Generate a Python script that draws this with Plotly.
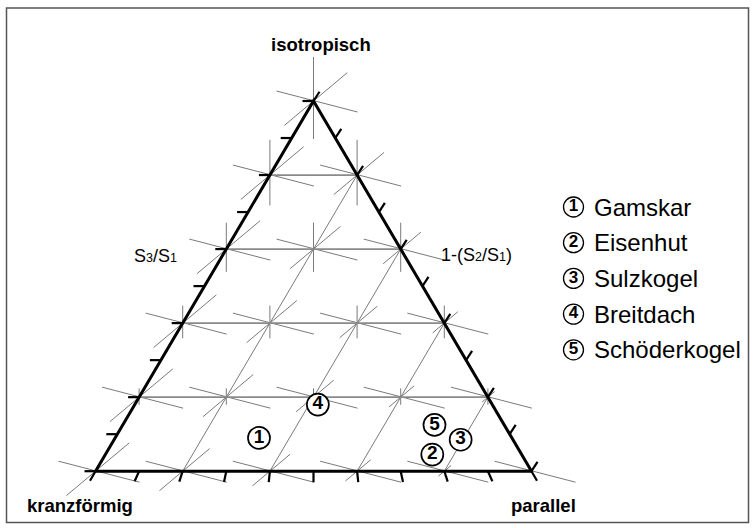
import numpy as np
import plotly.graph_objects as go

# ---------------- data ----------------
site_names = ["Gamskar", "Eisenhut", "Sulzkogel", "Breitdach", "Schöderkogel"]
site_numbers = ["1", "2", "3", "4", "5"]
# ternary components: isotropisch (top), kranzförmig (bottom-left), parallel (bottom-right)
isotropisch = [0.09, 0.045, 0.085, 0.18, 0.125]
kranzfoermig = [0.58, 0.205, 0.12, 0.40, 0.16]
parallel = [0.33, 0.75, 0.795, 0.42, 0.715]

grid_levels = [0.2, 0.4, 0.6, 0.8]
node_levels = [0.0, 0.2, 0.4, 0.6, 0.8, 1.0]
tick_levels = [0.0, 0.1, 0.2, 0.3, 0.4, 0.5, 0.6, 0.7, 0.8, 0.9, 1.0]

corner_labels = ["isotropisch", "kranzförmig", "parallel"]
SUB = '<span style="font-size:12.5px">%s</span>'
axis_titles = ["S" + SUB % "3" + "/S" + SUB % "1",
               "1-(S" + SUB % "2" + "/S" + SUB % "1" + ")"]

# ---------------- layout constants (pixels) ----------------
W, H = 755, 528
X0, Y0 = 95.5, 471.2      # pixel position of the kranzförmig corner
SX, SY = 436.0, 370.2     # pixels per unit of the triangle frame
FONT = "Liberation Sans, Arial, sans-serif"


def tern(a, c):
    """ternary (a = isotropisch, c = parallel) -> frame coordinates"""
    a = np.asarray(a, dtype=float)
    c = np.asarray(c, dtype=float)
    return c + a / 2.0, a


def px(dx, dy):
    """pixel offset -> frame offset"""
    return dx / SX, -dy / SY


def segs_trace(segs, color, width):
    xs, ys = [], []
    for (x1, y1), (x2, y2) in segs:
        xs += [x1, x2, None]
        ys += [y1, y2, None]
    return go.Scatter(x=xs, y=ys, mode="lines", hoverinfo="skip",
                      line=dict(color=color, width=width), showlegend=False)


fig = go.Figure()

# ----- grid lines -----
hgrid = []
for a in grid_levels:
    p1 = tern(a, 0.0)
    p2 = tern(a, 1.0 - a)
    hgrid.append(((float(p1[0]), float(p1[1])), (float(p2[0]), float(p2[1]))))
cgrid = []
for c in grid_levels:
    p1 = tern(0.0, c)
    p2 = tern(1.0 - c, c)
    cgrid.append(((float(p1[0]), float(p1[1])), (float(p2[0]), float(p2[1]))))

# ----- node symbols -----
u = (np.cos(np.radians(40)), -np.sin(np.radians(40)))
node_segs = []
for a in node_levels:
    for c in node_levels:
        if a + c > 1.0 + 1e-9:
            continue
        nx, ny = (float(v) for v in tern(a, c))
        # shallow "\" stroke
        d1 = px(-37, -10)
        d2 = px(44, 11)
        node_segs.append(((nx + d1[0], ny + d1[1]), (nx + d2[0], ny + d2[1])))
        # "/" stroke, shrinking towards parallel
        if c < 1.0 - 1e-9:
            l1, l2 = 38 * (1 - c), 44 * (1 - c)
            d1 = px(-l1 * u[0], -l1 * u[1])
            d2 = px(l2 * u[0], l2 * u[1])
            node_segs.append(((nx + d1[0], ny + d1[1]), (nx + d2[0], ny + d2[1])))
        # vertical stroke, shrinking towards the base
        if a > 1e-9:
            d1 = px(0, 38 * a)
            d2 = px(0, -44 * a)
            node_segs.append(((nx + d1[0], ny + d1[1]), (nx + d2[0], ny + d2[1])))

fig.add_trace(segs_trace(node_segs, "#7a7a7a", 1.0))
fig.add_trace(segs_trace(cgrid, "#7a7a7a", 1.0))
fig.add_trace(segs_trace(hgrid, "#8a8a8a", 1.7))

# ----- ticks -----
ticks = []
TL = 11
for t in tick_levels:
    # left edge (isotropisch axis): horizontal, pointing left
    x, y = (float(v) for v in tern(t, 0.0))
    d = px(-TL, 0)
    ticks.append(((x, y), (x + d[0], y + d[1])))
    # bottom edge: fanning downward
    x, y = (float(v) for v in tern(0.0, t))
    th = np.radians((t - 0.5) * 60)
    d = px(TL * np.sin(th), TL * np.cos(th))
    ticks.append(((x, y), (x + d[0], y + d[1])))
    # right edge: up-right
    x, y = (float(v) for v in tern(1.0 - t, t))
    d = px(TL * np.cos(np.radians(57)), -TL * np.sin(np.radians(57)))
    ticks.append(((x, y), (x + d[0], y + d[1])))
fig.add_trace(segs_trace(ticks, "black", 2.2))

# ----- triangle frame -----
tx, ty = tern([0.0, 0.0, 1.0, 0.0], [0.0, 1.0, 0.0, 0.0])
fig.add_trace(go.Scatter(x=tx, y=ty, mode="lines", hoverinfo="skip",
                         line=dict(color="black", width=3), showlegend=False))

# ----- sites -----
sx, sy = tern(isotropisch, parallel)
fig.add_trace(go.Scatter(
    x=sx, y=sy, mode="markers+text",
    text=site_numbers,
    textposition="middle center",
    textfont=dict(family=FONT, size=19, color="black", weight="bold"),
    marker=dict(symbol="circle", size=22, color="white",
                line=dict(color="black", width=1.7)),
    hovertext=site_names, hoverinfo="text", showlegend=False))

# ----- legend (circled numbers + names) -----
LEG_X, LEG_Y, LEG_DY = 573.5, 207.0, 35.7
lx = [(LEG_X - X0) / SX] * len(site_names)
ly = [(Y0 - (LEG_Y + i * LEG_DY)) / SY for i in range(len(site_names))]
fig.add_trace(go.Scatter(
    x=lx, y=ly, mode="markers+text",
    text=site_numbers,
    textposition="middle center",
    textfont=dict(family=FONT, size=17, color="black", weight="bold"),
    marker=dict(symbol="circle", size=20, color="white",
                line=dict(color="black", width=1.3)),
    hoverinfo="skip", showlegend=False))

annotations = []
for i, name in enumerate(site_names):
    annotations.append(dict(
        x=592 / W, y=1 - (LEG_Y + i * LEG_DY) / H, xref="paper", yref="paper",
        text=name, showarrow=False, xanchor="left", yanchor="middle",
        font=dict(family=FONT, size=24, color="black")))

# corner labels
corner_pos = [(320.5, 44), (79.5, 505), (543, 505)]
for lab, (xp, yp) in zip(corner_labels, corner_pos):
    annotations.append(dict(
        x=xp / W, y=1 - yp / H, xref="paper", yref="paper",
        text=lab, showarrow=False, xanchor="center", yanchor="middle",
        font=dict(family=FONT, size=18.5, color="black", weight="bold")))

# axis titles
title_pos = [(155.5, 256), (476, 255)]
for lab, (xp, yp) in zip(axis_titles, title_pos):
    annotations.append(dict(
        x=xp / W, y=1 - yp / H, xref="paper", yref="paper",
        text=lab, showarrow=False, xanchor="center", yanchor="middle",
        font=dict(family=FONT, size=18, color="black")))

fig.update_layout(
    width=W, height=H, autosize=False,
    margin=dict(l=0, r=0, t=0, b=0),
    paper_bgcolor="white", plot_bgcolor="white",
    xaxis=dict(range=[-X0 / SX, (W - X0) / SX], visible=False, fixedrange=True),
    yaxis=dict(range=[(Y0 - H) / SY, Y0 / SY], visible=False, fixedrange=True),
    annotations=annotations,
    shapes=[dict(type="rect", xref="paper", yref="paper",
                 x0=6.5 / W, x1=748.5 / W, y0=1 - 522.5 / H, y1=1 - 8 / H,
                 line=dict(color="#555555", width=1.5))],
    showlegend=False,
)

fig.write_html(
    "out.html",
    config={"displayModeBar": False},
    post_script="document.body.style.margin='0';document.body.style.overflow='hidden';",
)
